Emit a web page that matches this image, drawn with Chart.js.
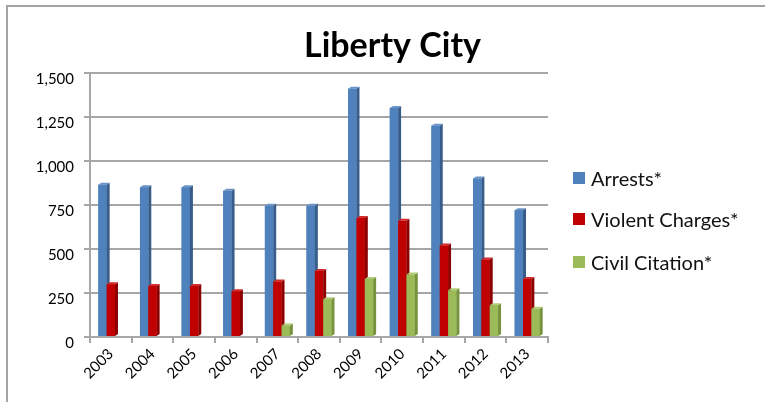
<!DOCTYPE html>
<html>
<head>
<meta charset="utf-8">
<title>Liberty City</title>
<script src="https://cdn.jsdelivr.net/npm/chart.js@4/dist/chart.umd.min.js"></script>
<style>
  html, body { margin: 0; padding: 0; background: #fff; }
  #wrap { position: relative; width: 765px; height: 402px; overflow: hidden; }
  #frame {
    position: absolute; left: 6px; top: 5px; width: 820px; height: 440px;
    border-top: 2px solid #a3a3a3; border-left: 2px solid #a3a3a3;
  }
  canvas { position: absolute; left: 0; top: 0; }
  #legend { position: absolute; left: 573px; top: 0; font: 20px Lato, sans-serif; color: #111; }
  #legend .item { position: absolute; left: 0; height: 24px; line-height: 24px; white-space: nowrap; }
  #legend .box { position: absolute; left: 0; top: 6px; width: 12px; height: 12px; }
  #legend .txt { position: absolute; left: 18px; top: 0; }
</style>
</head>
<body>
<div id="wrap">
  <div id="frame"></div>
  <canvas id="chart" width="765" height="402"></canvas>
  <div id="legend"></div>
</div>
<script>
/* Liberty City — yıllara göre tutuklama, şiddet suçlaması ve civil citation */

const YEARS = ["2003", "2004", "2005", "2006", "2007", "2008", "2009", "2010", "2011", "2012", "2013"];
const ARRESTS = [865, 850, 850, 830, 745, 745, 1410, 1300, 1200, 900, 720];
const VIOLENT = [300, 290, 290, 260, 315, 375, 675, 660, 520, 440, 330];
const CIVIL = [null, null, null, null, 65, 215, 330, 355, 265, 180, 160];
const SERIES_NAMES = ["Arrests*", "Violent Charges*", "Civil Citation*"];

const Y_MAX = 1500;
const Y_STEP = 250;

const BLUE = "#4f81bd";
const RED = "#c00000";
const GREEN = "#9bbb59";
const GRID = "#a6a6a6";

/* 3B görünüm için yan ve üst yüz renkleri */
const FACES = {
  [BLUE]: { side: "#385d8a", top: "#6a93c8" },
  [RED]: { side: "#8c0000", top: "#d42a2a" },
  [GREEN]: { side: "#76923c", top: "#b0cb78" },
};
const DX = 3;
const DY = 2;

const FONT = "Lato, 'Open Sans', sans-serif";

/** Çubukları soldan sağa yeniden boyar, her birine sağ yan ve üst yüz ekler.
   Chart.js ilk veri setini en son çizdiği için sıra burada düzeltilir:
   mavinin yan yüzü kırmızının arkasında kalmalı. */
const depth3d = {
  id: "depth3d",
  afterDatasetsDraw(chart) {
    const ctx = chart.ctx;
    ctx.save();
    chart.data.datasets.forEach((ds, di) => {
      const face = FACES[ds.backgroundColor];
      chart.getDatasetMeta(di).data.forEach((bar, i) => {
        if (ds.data[i] == null) return;
        const { x, y, base, width } = bar.getProps(["x", "y", "base", "width"], true);
        const l = x - width / 2;
        const r = x + width / 2;
        ctx.fillStyle = ds.backgroundColor;
        ctx.fillRect(l, y, width, base - y);
        ctx.fillStyle = face.side;
        ctx.beginPath();
        ctx.moveTo(r, y);
        ctx.lineTo(r + DX, y - DY);
        ctx.lineTo(r + DX, base - DY);
        ctx.lineTo(r, base);
        ctx.closePath();
        ctx.fill();
        ctx.fillStyle = face.top;
        ctx.beginPath();
        ctx.moveTo(l, y);
        ctx.lineTo(l + DX, y - DY);
        ctx.lineTo(r + DX, y - DY);
        ctx.lineTo(r, y);
        ctx.closePath();
        ctx.fill();
      });
    });
    ctx.restore();
  },
};

function dataset(label, data, color) {
  return {
    label,
    data,
    backgroundColor: color,
    borderWidth: 0,
    categoryPercentage: 0.6,
    barPercentage: 1.0,
  };
}

new Chart(document.getElementById("chart"), {
  type: "bar",
  data: {
    labels: YEARS,
    datasets: [
      dataset(SERIES_NAMES[0], ARRESTS, BLUE),
      dataset(SERIES_NAMES[1], VIOLENT, RED),
      dataset(SERIES_NAMES[2], CIVIL, GREEN),
    ],
  },
  options: {
    responsive: false,
    animation: false,
    layout: { padding: { left: 20, top: 8, right: 0, bottom: 0 } },
    plugins: {
      legend: { display: false },
      tooltip: { enabled: false },
      title: {
        display: true,
        text: "Liberty City",
        color: "#000",
        font: { family: FONT, size: 34, weight: "bold" },
        padding: { top: 18, bottom: 6 },
      },
    },
    scales: {
      x: {
        grid: { display: true, drawOnChartArea: false, color: GRID, lineWidth: 2, tickLength: 6 },
        border: { color: GRID, width: 2 },
        ticks: {
          color: "#000",
          font: { family: FONT, size: 15 },
          minRotation: 45,
          maxRotation: 45,
          padding: 2,
        },
        afterFit: (s) => { s.height = 65; },
      },
      y: {
        min: 0,
        max: Y_MAX,
        grid: { color: GRID, lineWidth: 2, tickLength: 6 },
        border: { color: GRID, width: 2 },
        ticks: {
          stepSize: Y_STEP,
          color: "#000",
          padding: 10,
          labelOffset: 6,
          font: { family: FONT, size: 15 },
          callback: (v) => v.toLocaleString("en-US"),
        },
        afterFit: (s) => { s.width = 70; },
      },
      /* sağda lejant için boşluk bırakan görünmez eksen */
      legendSpace: {
        type: "linear",
        position: "right",
        grid: { display: false },
        border: { display: false },
        ticks: { display: false },
        afterFit: (s) => { s.width = 217; },
      },
    },
  },
  plugins: [depth3d],
});

/* Lejant — kutu + metin, grafiğin sağında */
const LEGEND_Y = [178, 219, 262];
const legendEl = document.getElementById("legend");
[BLUE, RED, GREEN].forEach((color, i) => {
  const item = document.createElement("div");
  item.className = "item";
  item.style.top = (LEGEND_Y[i] - 12) + "px";
  item.innerHTML = `<span class="box" style="background:${color}"></span><span class="txt">${SERIES_NAMES[i]}</span>`;
  legendEl.appendChild(item);
});
</script>
</body>
</html>
